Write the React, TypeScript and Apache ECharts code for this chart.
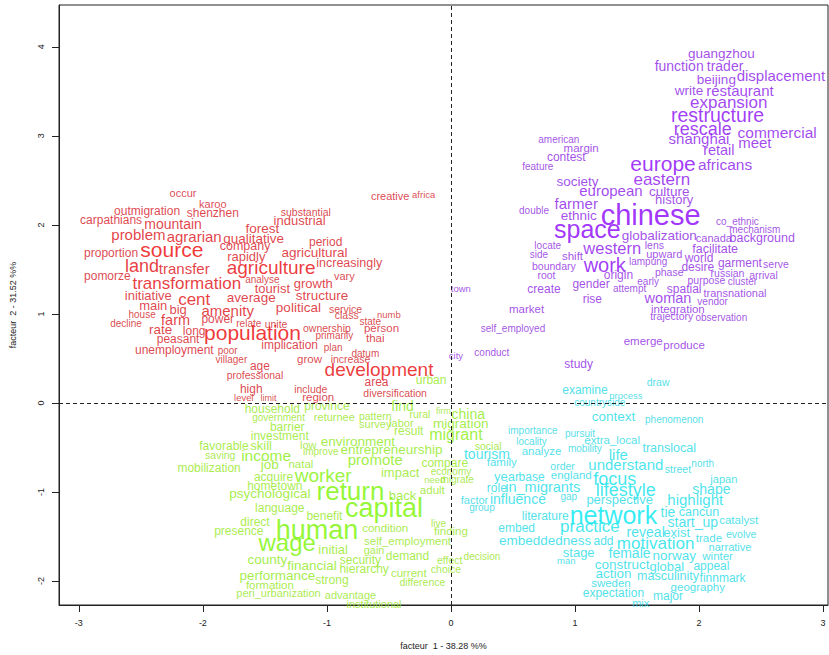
import React, { useEffect, useRef } from "react";
import * as echarts from "echarts";

// [word, factor 1, factor 2, weight]
type Word = [string, number, number, number];

const ruralWords: Word[] = [
  ["occur", -2.16, 2.36, 11], ["karoo", -1.92, 2.24, 11], ["outmigration", -2.45, 2.16, 12],
  ["shenzhen", -1.92, 2.13, 12], ["carpathians", -2.74, 2.05, 12], ["mountain", -2.24, 2.01, 14],
  ["forest", -1.52, 1.96, 13.5], ["substantial", -1.17, 2.15, 10.5], ["industrial", -1.22, 2.05, 13],
  ["problem", -2.52, 1.89, 15], ["agrarian", -2.07, 1.87, 15], ["qualitative", -1.59, 1.85, 13.5],
  ["period", -1.01, 1.81, 12], ["company", -1.66, 1.76, 12.5], ["proportion", -2.74, 1.68, 12],
  ["source", -2.25, 1.72, 21], ["agricultural", -1.1, 1.69, 13.5], ["rapidly", -1.65, 1.64, 13],
  ["increasingly", -0.82, 1.57, 12.5], ["land", -2.49, 1.54, 18], ["transfer", -2.15, 1.51, 15],
  ["agriculture", -1.45, 1.52, 19], ["pomorze", -2.77, 1.43, 12], ["vary", -0.86, 1.43, 11],
  ["analyse", -1.52, 1.39, 10], ["transformation", -2.13, 1.34, 17], ["growth", -1.11, 1.34, 13],
  ["tourist", -1.44, 1.28, 13], ["initiative", -2.44, 1.21, 13], ["cent", -2.07, 1.16, 17],
  ["average", -1.61, 1.18, 13.5], ["structure", -1.04, 1.21, 13.5], ["main", -2.4, 1.09, 13],
  ["political", -1.23, 1.07, 13.5], ["service", -0.85, 1.06, 10.5], ["big", -2.2, 1.05, 13],
  ["amenity", -1.8, 1.04, 15], ["house", -2.49, 0.99, 10], ["class", -0.84, 0.99, 10.5],
  ["numb", -0.5, 0.99, 9.5], ["farm", -2.22, 0.93, 14.5], ["power", -1.88, 0.94, 12],
  ["relate", -1.63, 0.89, 10], ["unite", -1.41, 0.89, 10.5], ["decline", -2.62, 0.89, 10],
  ["state", -0.65, 0.91, 10], ["ownership", -1.0, 0.84, 10.5], ["person", -0.56, 0.84, 11.5],
  ["rate", -2.34, 0.82, 13.5], ["long", -2.07, 0.81, 12], ["population", -1.6, 0.79, 21],
  ["primarily", -0.94, 0.76, 10], ["thai", -0.61, 0.73, 11.5], ["peasant", -2.2, 0.72, 12],
  ["implication", -1.3, 0.65, 12], ["plan", -0.95, 0.62, 10], ["unemployment", -2.23, 0.59, 12],
  ["poor", -1.8, 0.59, 10], ["datum", -0.69, 0.56, 10], ["villager", -1.77, 0.49, 10],
  ["grow", -1.14, 0.49, 11.5], ["increase", -0.81, 0.49, 10.5], ["age", -1.54, 0.41, 12],
  ["development", -0.58, 0.38, 19], ["professional", -1.58, 0.31, 10.5], ["area", -0.6, 0.24, 12],
  ["high", -1.61, 0.16, 12], ["include", -1.13, 0.16, 10.5], ["diversification", -0.45, 0.11, 10.5],
  ["region", -1.07, 0.07, 11.5], ["level", -1.67, 0.06, 9.5], ["limit", -1.47, 0.06, 9],
  ["creative", -0.49, 2.32, 11], ["africa", -0.22, 2.34, 9.5],
];

const returnWords: Word[] = [
  ["urban", -0.16, 0.26, 12], ["find", -0.39, -0.03, 14], ["household", -1.44, -0.07, 12],
  ["province", -1.0, -0.04, 12], ["government", -1.39, -0.16, 10], ["returnee", -0.94, -0.16, 11],
  ["pattern", -0.61, -0.15, 10.5], ["rural", -0.25, -0.13, 10.5], ["firm", -0.06, -0.09, 9],
  ["china", 0.14, -0.12, 14], ["survey", -0.61, -0.24, 11], ["labor", -0.4, -0.22, 11],
  ["migration", 0.08, -0.23, 13.5], ["barrier", -1.32, -0.27, 12], ["result", -0.34, -0.32, 12],
  ["migrant", 0.04, -0.36, 16], ["investment", -1.38, -0.37, 12], ["environment", -0.75, -0.43, 13.5],
  ["favorable", -1.83, -0.48, 12], ["skill", -1.53, -0.48, 13], ["low", -1.15, -0.47, 11],
  ["social", 0.3, -0.48, 10.5], ["entrepreneurship", -0.48, -0.52, 13.5], ["improve", -1.05, -0.55, 10],
  ["saving", -1.86, -0.59, 10.5], ["income", -1.49, -0.59, 15.5], ["promote", -0.61, -0.63, 15],
  ["compare", -0.05, -0.67, 12], ["job", -1.46, -0.69, 13.5], ["natal", -1.21, -0.69, 11.5],
  ["mobilization", -1.95, -0.73, 12], ["economy", 0.0, -0.77, 10], ["impact", -0.41, -0.78, 13],
  ["acquire", -1.43, -0.83, 12], ["worker", -1.03, -0.82, 19], ["need", -0.13, -0.86, 9.5],
  ["migrate", 0.05, -0.86, 10], ["hometown", -1.42, -0.93, 12], ["adult", -0.15, -0.98, 11.5],
  ["return", -0.81, -0.99, 26], ["psychological", -1.46, -1.02, 13.5], ["back", -0.39, -1.04, 13],
  ["language", -1.38, -1.18, 12], ["capital", -0.54, -1.18, 27], ["benefit", -1.02, -1.27, 12],
  ["direct", -1.58, -1.34, 12], ["live", -0.1, -1.35, 10], ["human", -1.08, -1.43, 27],
  ["presence", -1.71, -1.44, 12], ["condition", -0.53, -1.41, 11.5], ["finding", 0.0, -1.44, 11.5],
  ["self_employment", -0.35, -1.55, 11.5], ["wage", -1.32, -1.57, 24], ["initial", -0.95, -1.65, 13],
  ["gain", -0.62, -1.65, 11], ["demand", -0.35, -1.72, 12], ["effect", -0.01, -1.76, 10.5],
  ["decision", 0.25, -1.73, 10], ["county", -1.48, -1.76, 13.5], ["security", -0.73, -1.77, 12],
  ["financial", -1.12, -1.83, 13.5], ["hierarchy", -0.7, -1.87, 12], ["choice", -0.04, -1.86, 10.5],
  ["current", -0.34, -1.91, 11.5], ["performance", -1.4, -1.94, 13.5], ["strong", -0.96, -1.99, 12],
  ["difference", -0.23, -2.01, 10.5], ["formation", -1.46, -2.05, 11.5],
  ["peri_urbanization", -1.39, -2.14, 11], ["advantage", -0.81, -2.16, 11],
  ["institutional", -0.62, -2.26, 11],
];

const lifestyleWords: Word[] = [
  ["examine", 1.08, 0.14, 12], ["draw", 1.67, 0.23, 10.5], ["process", 1.41, 0.08, 9.5],
  ["countryside", 1.2, 0.01, 10], ["context", 1.31, -0.15, 13.5], ["phenomenon", 1.8, -0.19, 10],
  ["importance", 0.66, -0.31, 10], ["pursuit", 1.04, -0.34, 10], ["locality", 0.65, -0.43, 10],
  ["extra_local", 1.3, -0.42, 11.5], ["mobility", 1.08, -0.51, 10], ["translocal", 1.76, -0.51, 12.5],
  ["analyze", 0.73, -0.54, 11.5], ["tourism", 0.29, -0.57, 14], ["life", 1.35, -0.58, 15],
  ["family", 0.41, -0.66, 11.5], ["order", 0.9, -0.71, 10.5], ["understand", 1.41, -0.69, 15],
  ["street", 1.83, -0.74, 10.5], ["north", 2.03, -0.68, 10], ["england", 0.97, -0.81, 11.5],
  ["year", 0.45, -0.83, 13], ["base", 0.65, -0.83, 12], ["focus", 1.32, -0.85, 18],
  ["japan", 2.2, -0.86, 11], ["role", 0.37, -0.96, 12], ["in_migrants", 0.74, -0.95, 14.5],
  ["shape", 2.1, -0.97, 14], ["lifestyle", 1.41, -0.98, 18], ["gap", 0.95, -1.05, 10],
  ["factor", 0.19, -1.09, 11], ["influence", 0.54, -1.08, 14], ["perspective", 1.36, -1.09, 13],
  ["highlight", 1.97, -1.09, 15], ["group", 0.25, -1.18, 10], ["tie", 1.75, -1.22, 14],
  ["cancun", 2.0, -1.22, 12.5], ["literature", 0.76, -1.27, 12], ["network", 1.31, -1.26, 25],
  ["catalyst", 2.32, -1.32, 11.5], ["start_up", 1.95, -1.34, 14], ["embed", 0.53, -1.41, 12],
  ["practice", 1.12, -1.39, 17], ["reveal", 1.57, -1.45, 14], ["exist", 1.82, -1.46, 13],
  ["evolve", 2.34, -1.47, 10.5], ["trade", 2.08, -1.52, 11.5], ["embeddedness", 0.76, -1.54, 13.5],
  ["add", 1.23, -1.55, 12], ["motivation", 1.65, -1.58, 17], ["narrative", 2.25, -1.62, 11],
  ["stage", 1.03, -1.68, 13], ["female", 1.44, -1.69, 14], ["norway", 1.8, -1.71, 13.5],
  ["winter", 2.15, -1.72, 11.5], ["man", 0.93, -1.77, 9.5], ["construct", 1.38, -1.81, 13.5],
  ["global", 1.74, -1.84, 13], ["appeal", 2.1, -1.83, 12], ["action", 1.31, -1.92, 13.5],
  ["masculinity", 1.75, -1.94, 12.5], ["finnmark", 2.19, -1.97, 12], ["sweden", 1.29, -2.02, 11.5],
  ["geography", 1.99, -2.07, 11.5], ["expectation", 1.31, -2.13, 12], ["major", 1.75, -2.17, 12],
  ["mix", 1.53, -2.25, 11],
];

const diasporaWords: Word[] = [
  ["guangzhou", 2.18, 3.92, 13.5], ["function", 1.84, 3.79, 14], ["trader", 2.21, 3.78, 14],
  ["beijing", 2.14, 3.63, 13.5], ["displacement", 2.66, 3.68, 15], ["write", 1.92, 3.51, 13.5],
  ["restaurant", 2.33, 3.51, 15], ["expansion", 2.24, 3.38, 17], ["restructure", 2.15, 3.23, 19.5],
  ["rescale", 2.03, 3.08, 18], ["commercial", 2.63, 3.04, 15.5], ["shanghai", 2.0, 2.97, 15],
  ["meet", 2.45, 2.93, 15], ["retail", 2.16, 2.84, 14.5], ["american", 0.87, 2.96, 10],
  ["margin", 1.05, 2.86, 11.5], ["contest", 0.93, 2.76, 12], ["feature", 0.7, 2.66, 10],
  ["europe", 1.71, 2.69, 21], ["africans", 2.21, 2.68, 15.5], ["society", 1.02, 2.49, 13.5],
  ["eastern", 1.7, 2.51, 17], ["european", 1.29, 2.39, 15], ["culture", 1.76, 2.38, 13.5],
  ["history", 1.8, 2.29, 13], ["farmer", 1.01, 2.24, 15], ["double", 0.67, 2.16, 10],
  ["ethnic", 1.03, 2.11, 13.5], ["chinese", 1.61, 2.11, 29], ["co_ethnic", 2.31, 2.04, 10],
  ["space", 1.1, 1.95, 25], ["mechanism", 2.45, 1.95, 10], ["globalization", 1.68, 1.88, 13.5],
  ["canada", 2.12, 1.85, 11], ["background", 2.51, 1.85, 12.5], ["locate", 0.78, 1.77, 10],
  ["lens", 1.64, 1.77, 10.5], ["western", 1.3, 1.74, 16.5], ["facilitate", 2.13, 1.73, 12.5],
  ["side", 0.71, 1.67, 10], ["upward", 1.72, 1.67, 11], ["shift", 0.98, 1.65, 11.5],
  ["world", 2.0, 1.63, 12], ["work", 1.24, 1.55, 20], ["lampung", 1.59, 1.59, 10],
  ["garment", 2.33, 1.57, 12], ["serve", 2.62, 1.56, 10.5], ["boundary", 0.83, 1.54, 10.5],
  ["desire", 1.99, 1.53, 12], ["phase", 1.76, 1.47, 10.5], ["russian", 2.23, 1.46, 10.5],
  ["root", 0.77, 1.44, 10.5], ["origin", 1.35, 1.44, 12], ["arrival", 2.52, 1.44, 10.5],
  ["early", 1.59, 1.36, 10], ["purpose", 2.06, 1.38, 10.5], ["cluster", 2.35, 1.36, 10],
  ["gender", 1.13, 1.34, 12], ["town", 0.08, 1.28, 9.5], ["create", 0.75, 1.28, 12],
  ["attempt", 1.44, 1.28, 10], ["spatial", 1.88, 1.28, 12], ["transnational", 2.29, 1.23, 11],
  ["rise", 1.14, 1.17, 12], ["woman", 1.75, 1.18, 14.5], ["vendor", 2.11, 1.14, 10],
  ["market", 0.61, 1.06, 11.5], ["integration", 1.83, 1.06, 11.5], ["trajectory", 1.78, 0.98, 10.5],
  ["observation", 2.18, 0.96, 10], ["self_employed", 0.5, 0.84, 10], ["emerge", 1.55, 0.69, 11.5],
  ["produce", 1.88, 0.65, 11.5], ["conduct", 0.33, 0.57, 10], ["city", 0.04, 0.53, 9.5],
  ["study", 1.03, 0.44, 12],
];

const xTicks = [-3, -2, -1, 0, 1, 2, 3];
const yTicks = [-2, -1, 0, 1, 2, 3, 4];
const xLimits = [-3.16, 3.04];
const yLimits = [-2.27, 4.47];
const xTitle = "facteur  1 - 38.28 %%";
const yTitle = "facteur  2 - 31.52 %%";

type RGB = [number, number, number];
const tones: Record<string, { strong: RGB; weak: RGB }> = {
  rural: { strong: [238, 0, 0], weak: [208, 22, 34] },
  ret: { strong: [120, 245, 0], weak: [150, 228, 30] },
  life: { strong: [0, 232, 240], weak: [40, 214, 226] },
  diaspora: { strong: [138, 0, 250], weak: [140, 40, 222] },
};

const FONT = "'Liberation Sans', Arial, sans-serif";

function wordColor(weight: number, tone: { strong: RGB; weak: RGB }) {
  const t = Math.max(0, Math.min(1, (weight - 10) / 12));
  const c = tone.weak.map((w, i) => Math.round(w + (tone.strong[i] - w) * t));
  return `rgb(${c[0]},${c[1]},${c[2]})`;
}

function wordSeries(words: Word[], tone: { strong: RGB; weak: RGB }) {
  return {
    type: "scatter",
    silent: true,
    symbol: "circle",
    symbolSize: 1,
    itemStyle: { color: "rgba(0,0,0,0)" },
    label: {
      show: true,
      position: "inside",
      formatter: "{b}",
      fontFamily: FONT,
    },
    emphasis: { disabled: true },
    data: words.map(([w, x, y, weight]) => ({
      name: w,
      value: [x, y],
      label: { fontSize: weight, color: wordColor(weight, tone) },
    })),
  };
}

export default function App() {
  const ref = useRef<HTMLDivElement>(null);

  useEffect(() => {
    if (!ref.current) return;
    const chart = echarts.init(ref.current, undefined, { renderer: "svg" });
    const axisText = { color: "#222", fontSize: 9, fontFamily: FONT };
    chart.setOption({
      animation: false,
      backgroundColor: "#fff",
      grid: {
        left: 56,
        right: 1,
        top: 5,
        bottom: 43,
        show: true,
        borderColor: "#222",
        borderWidth: 1,
      },
      xAxis: {
        type: "value",
        min: xLimits[0],
        max: xLimits[1],
        splitLine: { show: false },
        axisLine: { show: true, onZero: false, lineStyle: { color: "#222" } },
        axisTick: { show: true, inside: false, length: 7, customValues: xTicks, lineStyle: { color: "#222" } },
        axisLabel: { ...axisText, margin: 13, customValues: xTicks },
        name: xTitle,
        nameLocation: "middle",
        nameGap: 36,
        nameTextStyle: axisText,
      },
      yAxis: {
        type: "value",
        min: yLimits[0],
        max: yLimits[1],
        splitLine: { show: false },
        axisLine: { show: true, onZero: false, lineStyle: { color: "#222" } },
        axisTick: { show: true, inside: false, length: 7, customValues: yTicks, lineStyle: { color: "#222" } },
        axisLabel: { ...axisText, margin: 14, rotate: 90, customValues: yTicks },
        name: yTitle,
        nameLocation: "middle",
        nameGap: 42,
        nameRotate: 90,
        nameTextStyle: axisText,
      },
      series: [
        {
          ...wordSeries(ruralWords, tones.rural),
          markLine: {
            silent: true,
            symbol: "none",
            label: { show: false },
            lineStyle: { color: "#222", width: 1, type: [4, 3] },
            data: [{ xAxis: 0 }, { yAxis: 0 }],
          },
        },
        wordSeries(returnWords, tones.ret),
        wordSeries(lifestyleWords, tones.life),
        wordSeries(diasporaWords, tones.diaspora),
      ],
    });
    return () => chart.dispose();
  }, []);

  return (
    <div
      ref={ref}
      style={{ position: "fixed", left: 0, top: 0, width: 829, height: 655, background: "#fff" }}
    />
  );
}
